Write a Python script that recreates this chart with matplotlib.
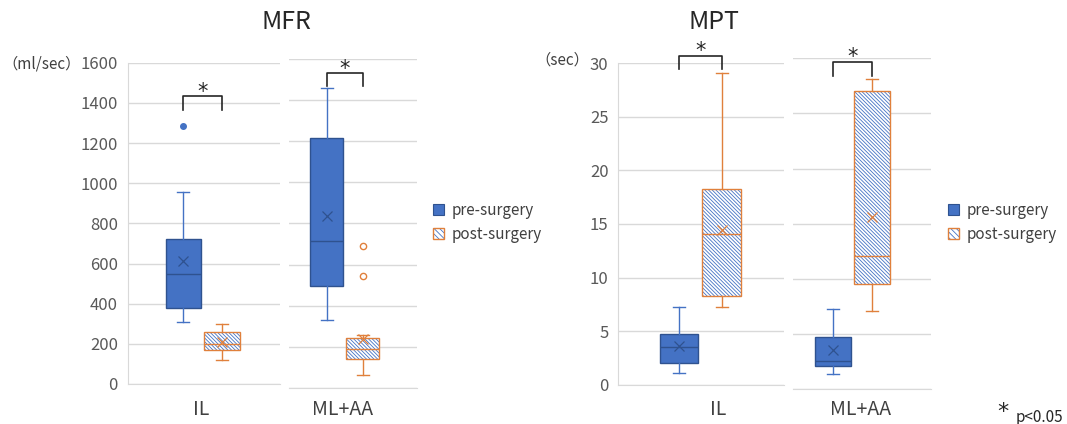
import matplotlib
matplotlib.use("Agg")
import matplotlib.pyplot as plt
from matplotlib.patches import Patch, PathPatch

plt.rcParams['font.family'] = ['Noto Sans CJK JP', 'DejaVu Sans']
plt.rcParams['hatch.linewidth'] = 0.6

W, H = 1067, 424

groups = ["IL", "ML+AA"]
series = ["pre-surgery", "post-surgery"]

# MFR (ml/sec), one value per group: IL, ML+AA
mfr_pre_lo = [309, 330]
mfr_pre_q1 = [378, 496]
mfr_pre_med = [546, 717]
mfr_pre_mean = [612, 835]
mfr_pre_q3 = [722, 1213]
mfr_pre_hi = [954, 1455]
mfr_pre_out = [[1283], []]

mfr_post_lo = [121, 66]
mfr_post_q1 = [171, 141]
mfr_post_med = [197, 189]
mfr_post_mean = [211, 238]
mfr_post_q3 = [257, 243]
mfr_post_hi = [297, 258]
mfr_post_out = [[], [688, 544]]

# MPT (sec)
mpt_pre_lo = [1.1, 1.4]
mpt_pre_q1 = [2.0, 2.06]
mpt_pre_med = [3.5, 2.5]
mpt_pre_mean = [3.64, 3.58]
mpt_pre_q3 = [4.72, 4.76]
mpt_pre_hi = [7.2, 7.27]
mpt_pre_out = [[], []]

mpt_post_lo = [7.21, 7.06]
mpt_post_q1 = [8.27, 9.55]
mpt_post_med = [14.08, 12.06]
mpt_post_mean = [14.45, 15.6]
mpt_post_q3 = [18.28, 27.0]
mpt_post_hi = [29.06, 28.15]
mpt_post_out = [[], []]

# significance brackets (leg bottom, top) in data units
mfr_sig = [(1366, 1432), (1467, 1529)]
mpt_sig = [(29.5, 30.7), (28.4, 29.7)]

BLUE = "#4472C4"
BLUE_DARK = "#2F528F"
ORANGE = "#E0803C"
GRID = "#D9D9D9"
TXT = "#595959"
HATCH = "\\" * 9


def stats(lo, q1, med, mean, q3, hi, out, i):
    return dict(whislo=lo[i], q1=q1[i], med=med[i], mean=mean[i],
                q3=q3[i], whishi=hi[i], fliers=out[i])


def px_axes(l, r, t, b):
    return fig.add_axes([l / W, 1 - b / H, (r - l) / W, (b - t) / H])


def draw_pre(ax, st, pos, width, capw):
    ax.bxp([st], positions=[pos], widths=width, capwidths=capw,
           patch_artist=True, showmeans=True, manage_ticks=False,
           boxprops=dict(facecolor=BLUE, edgecolor=BLUE_DARK, linewidth=1),
           whiskerprops=dict(color=BLUE, linewidth=1),
           capprops=dict(color=BLUE, linewidth=1),
           medianprops=dict(color=BLUE_DARK, linewidth=1),
           meanprops=dict(marker='x', markeredgecolor=BLUE_DARK, markersize=7,
                          markeredgewidth=0.9),
           flierprops=dict(marker='o', markerfacecolor=BLUE,
                           markeredgecolor=BLUE, markersize=4))


def draw_post(ax, st, pos, width, capw):
    bp = ax.bxp([st], positions=[pos], widths=width, capwidths=capw,
                patch_artist=True, showmeans=True, manage_ticks=False,
                boxprops=dict(facecolor='white', edgecolor=BLUE, linewidth=0,
                              hatch=HATCH),
                whiskerprops=dict(color=ORANGE, linewidth=1),
                capprops=dict(color=ORANGE, linewidth=1),
                medianprops=dict(color=ORANGE, linewidth=1),
                meanprops=dict(marker='x', markeredgecolor=ORANGE, markersize=7,
                               markeredgewidth=0.9),
                flierprops=dict(marker='o', markerfacecolor='white',
                                markeredgecolor=ORANGE, markersize=4.5))
    box = bp['boxes'][0]
    ax.add_patch(PathPatch(box.get_path(), fill=False, edgecolor=ORANGE,
                           linewidth=1, zorder=box.get_zorder() + 0.1))


def bracket(ax, x0, x1, y0, y1):
    ax.plot([x0, x0, x1, x1], [y0, y1, y1, y0], color="#262626", lw=1.2,
            clip_on=False)
    ax.annotate("*", ((x0 + x1) / 2, y1), xytext=(0, -4),
                textcoords="offset points", ha="center", va="bottom",
                fontsize=15, color="#262626", family="DejaVu Sans",
                annotation_clip=False)


fig = plt.figure(figsize=(W / 100, H / 100), dpi=100)

# panel layout in pixels: left, right, top, bottom, pre pos, post pos, box width, label pos
panels = {
    "mfr": [(127.7, 280, 62.7, 384, 0.365, 0.62, 0.232, 0.48),
            (289, 416.7, 58.5, 388.3, 0.294, 0.577, 0.262, 0.42)],
    "mpt": [(618.3, 784.3, 63.3, 384.6, 0.366, 0.622, 0.232, 0.6),
            (793.3, 930.7, 58.3, 389, 0.29, 0.574, 0.26, 0.49)],
}

data = {
    "mfr": (
        (mfr_pre_lo, mfr_pre_q1, mfr_pre_med, mfr_pre_mean, mfr_pre_q3, mfr_pre_hi, mfr_pre_out),
        (mfr_post_lo, mfr_post_q1, mfr_post_med, mfr_post_mean, mfr_post_q3, mfr_post_hi, mfr_post_out),
        mfr_sig, 1600, 200,
    ),
    "mpt": (
        (mpt_pre_lo, mpt_pre_q1, mpt_pre_med, mpt_pre_mean, mpt_pre_q3, mpt_pre_hi, mpt_pre_out),
        (mpt_post_lo, mpt_post_q1, mpt_post_med, mpt_post_mean, mpt_post_q3, mpt_post_hi, mpt_post_out),
        mpt_sig, 30, 5,
    ),
}

for key in ["mfr", "mpt"]:
    pre, post, sig, ymax, step = data[key]
    for i, (l, r, t, b, p_pre, p_post, bw, lab) in enumerate(panels[key]):
        ax = px_axes(l, r, t, b)
        capw = 12 / (r - l)
        draw_pre(ax, stats(*pre, i), p_pre, bw, capw)
        draw_post(ax, stats(*post, i), p_post, bw, capw)
        bracket(ax, p_pre, p_post, sig[i][0], sig[i][1])

        ax.set_xlim(0, 1)
        ax.set_ylim(0, ymax)
        ax.set_yticks(range(0, ymax + 1, step))
        ax.yaxis.grid(True, color=GRID, linewidth=1)
        ax.set_axisbelow(True)
        ax.set_xticks([lab])
        ax.set_xticklabels([groups[i]], fontsize=14, color="#404040")
        ax.tick_params(axis="x", length=0, pad=11 - (b - 384) * 0.72)
        ax.tick_params(axis="y", length=0, pad=7, labelsize=12, labelcolor=TXT)
        for s in ["top", "right"]:
            ax.spines[s].set_visible(False)
        ax.spines["bottom"].set_color(GRID)
        if i == 0:
            ax.spines["left"].set_color(GRID)
        else:
            ax.spines["left"].set_visible(False)
            ax.tick_params(axis="y", labelleft=False)

# titles and units
fig.text(286 / W, 1 - 22 / H, "MFR", ha="center", va="center", fontsize=18, color="#262626")
fig.text(714 / W, 1 - 22 / H, "MPT", ha="center", va="center", fontsize=18, color="#262626")
fig.text(81 / W, 1 - 64 / H, "（ml/sec）", ha="right", va="center", fontsize=11, color="#404040")
fig.text(589 / W, 1 - 60 / H, "（sec）", ha="right", va="center", fontsize=11, color="#404040")

# legends
handles = [
    Patch(facecolor=BLUE, edgecolor=BLUE_DARK, linewidth=0.8),
    (Patch(facecolor="white", edgecolor=BLUE, linewidth=0, hatch="\\" * 6),
     Patch(fill=False, edgecolor=ORANGE, linewidth=1)),
]
for x0 in [433, 948]:
    fig.legend(handles, series, loc="upper left",
               bbox_to_anchor=(x0 / W, 1 - 202 / H), frameon=False,
               fontsize=11, labelcolor="#404040", handlelength=0.75,
               handleheight=0.75, handletextpad=0.5, labelspacing=0.45,
               borderpad=0, borderaxespad=0)

# footnote
fig.text(1003 / W, 1 - 412 / H, "*", ha="center", va="center", fontsize=16,
         color="#262626", family="DejaVu Sans")
fig.text(1016 / W, 1 - 417 / H, "p<0.05", ha="left", va="center", fontsize=11, color="#262626")

fig.savefig("out.png", dpi=100)
